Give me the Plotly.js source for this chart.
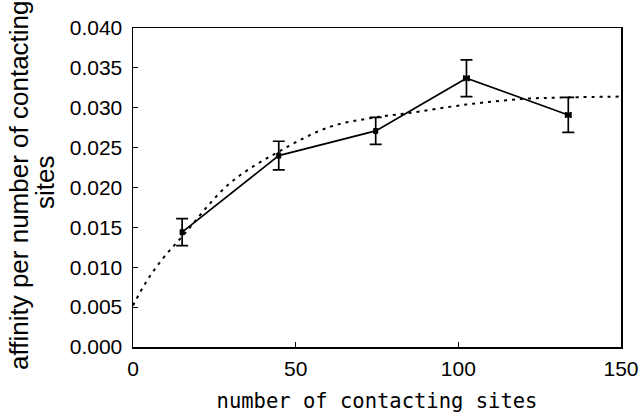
<!DOCTYPE html>
<html>
<head>
<meta charset="utf-8">
<script src="https://cdn.plot.ly/plotly-3.0.1.min.js"></script>
<style>html,body{margin:0;padding:0;background:#fff;}#chart{width:640px;height:415px;}</style>
</head>
<body>
<div id="chart"></div>
<script>
// Measured data
const sites = [15.1, 44.8, 74.6, 102.5, 133.8];
const affinity = [0.0144, 0.0240, 0.0271, 0.0337, 0.0291];
const affinityErr = [0.0017, 0.0018, 0.0017, 0.0023, 0.0022];
const sitesErr = [0.4, 0.4, 0.4, 0.8, 0.8];

// Fitted curve (dotted)
const fitX = [0, 4.1, 9.2, 15, 29.7, 44.8, 60.5, 74.6, 84.1, 102.5, 119.5, 133.8, 150];
const fitY = [0.0052, 0.0082, 0.0111, 0.0138, 0.0205, 0.0245, 0.0276, 0.0288, 0.0293, 0.0304, 0.0311, 0.0313, 0.0314];

const xTicks = [0, 50, 100, 150];
const yTicks = [0, 0.005, 0.010, 0.015, 0.020, 0.025, 0.030, 0.035, 0.040];
const yTickText = ['0.000','0.005','0.010','0.015','0.020','0.025','0.030','0.035','0.040'];

const xTitle = 'number of contacting sites';
const yTitleLines = ['affinity per number of contacting', 'sites'];

const SANS = '"Liberation Sans", Arial, sans-serif';
const MONO = '"DejaVu Sans Mono", monospace';

const traces = [
  {
    x: fitX, y: fitY, mode: 'lines', type: 'scatter',
    line: {color: '#000', width: 2, dash: '3px,5px', shape: 'spline'},
    hoverinfo: 'skip', showlegend: false
  },
  {
    x: sites, y: affinity, mode: 'lines+markers', type: 'scatter',
    line: {color: '#000', width: 1.7},
    marker: {color: '#000', size: 5, symbol: 'square'},
    error_y: {type: 'data', array: affinityErr, visible: true, color: '#000', thickness: 1.7, width: 6},
    error_x: {type: 'data', array: sitesErr, visible: true, color: '#000', thickness: 1.7, width: 3},
    showlegend: false
  }
];

// plot area: x 133..621, y 28..347
const PL = 133, PR = 621, PT = 28, PB = 347;
const px2x = p => (p - PL) / (PR - PL);
const px2y = p => (PB - p) / (PB - PT);

const layout = {
  width: 640, height: 415,
  margin: {l: PL, r: 640 - PR, t: PT, b: 415 - PB, pad: 0},
  paper_bgcolor: '#fff', plot_bgcolor: '#fff',
  font: {family: SANS, color: '#000', size: 21},
  showlegend: false,
  xaxis: {
    range: [0, 150], tickmode: 'array', tickvals: xTicks,
    ticks: 'inside', ticklen: 5, tickwidth: 1.2, tickcolor: '#000',
    showline: true, linecolor: '#000', linewidth: 1.5, mirror: true,
    showgrid: false, zeroline: false,
    tickfont: {family: SANS, size: 21, color: '#000'},
    ticklabelstandoff: 2,
    title: {text: xTitle, font: {family: MONO, size: 20.5, color: '#000'}, standoff: 15},
    automargin: false
  },
  yaxis: {
    range: [0, 0.040], tickmode: 'array', tickvals: yTicks, ticktext: yTickText,
    ticks: 'inside', ticklen: 5, tickwidth: 1.2, tickcolor: '#000',
    showline: true, linecolor: '#000', linewidth: 1.5, mirror: true,
    showgrid: false, zeroline: false,
    tickfont: {family: SANS, size: 21, color: '#000'},
    ticklabelstandoff: 5,
    automargin: false
  },
  annotations: [
    {xref: 'paper', yref: 'paper', x: px2x(19), y: px2y(185), xanchor: 'center', yanchor: 'middle',
     text: yTitleLines[0], textangle: -90, showarrow: false, font: {family: SANS, size: 26, color: '#000'}},
    {xref: 'paper', yref: 'paper', x: px2x(45), y: px2y(183), xanchor: 'center', yanchor: 'middle',
     text: yTitleLines[1], textangle: -90, showarrow: false, font: {family: SANS, size: 26, color: '#000'}}
  ]
};

Plotly.newPlot('chart', traces, layout, {displayModeBar: false, staticPlot: true});
</script>
</body>
</html>
